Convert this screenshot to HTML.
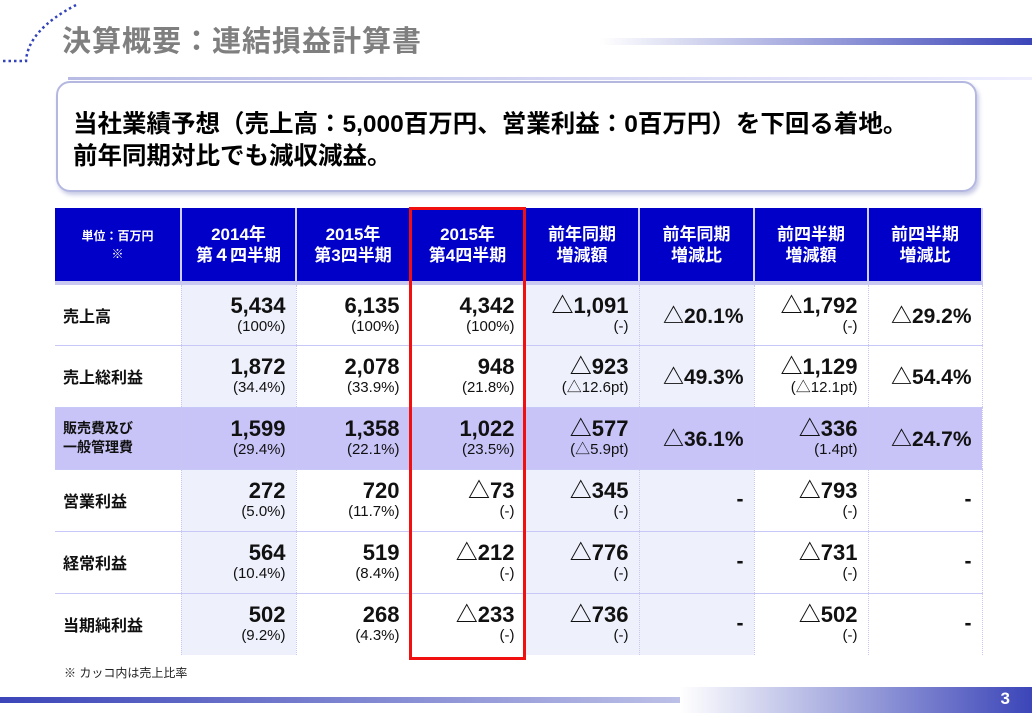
<!DOCTYPE html>
<html><head><meta charset="utf-8"><style>
*{margin:0;padding:0;box-sizing:border-box}
body{width:1032px;height:713px;background:#fff;position:relative;overflow:hidden;font-family:"Liberation Sans","Noto Sans CJK JP",sans-serif}
.abs{position:absolute}
#title{left:62px;top:18px;font-size:29px;font-weight:bold;color:#7f7f7f;letter-spacing:1px}
#callout{left:56px;top:81px;width:921px;height:111px;border:2px solid #b4b8e0;border-radius:14px;box-shadow:2px 3px 4px #c8cae6;padding:26px 0 0 15px;font-size:24.5px;font-weight:bold;line-height:32px;color:#000;white-space:nowrap}
table{position:absolute;left:55px;top:208px;border-collapse:collapse;table-layout:fixed}
td{border-right:1px dotted #c8c8f0;border-bottom:1px solid #c8c8f8;height:62px;text-align:right;padding-right:10px;font-size:13px;color:#111}
th{background:#0000c8;color:#fff;height:75px;font-size:17px;font-weight:bold;line-height:21px;border-right:2px solid #d0d0ff;border-bottom:4px solid #c8c8f0}
th.u{font-size:12px;line-height:18px}
td.lab{text-align:left;padding-left:8px;font-weight:bold;font-size:16px}
td .v{display:block;font-size:22px;font-weight:bold;line-height:24px}
td .s{display:block;font-size:15px;line-height:18px}
td.c{font-size:21px;font-weight:bold;vertical-align:middle}
.l{background:#eef0fc}
tr.p td{background:#c8c4f8}
#red{left:409px;top:207px;width:117px;height:453px;border:3px solid #f01010}
</style></head><body>
<svg class="abs" style="left:0;top:0" width="90" height="70"><path d="M3 61 L26 61 Q28 30 76 5" stroke="#3344bb" stroke-width="2.5" fill="none" stroke-dasharray="2.5 3"/></svg>
<div id="title" class="abs">決算概要：連結損益計算書</div>
<div class="abs" style="left:600px;top:38px;width:432px;height:7px;background:linear-gradient(90deg,#fff,#3b45b8)"></div>
<div class="abs" style="left:68px;top:77px;width:964px;height:3px;background:linear-gradient(90deg,#b8bce4,#eef)"></div>
<div id="callout" class="abs">当社業績予想（売上高：5,000百万円、営業利益：0百万円）を下回る着地。<br>前年同期対比でも減収減益。</div>
<table>
<colgroup><col style="width:126px"><col style="width:115px"><col style="width:114px"><col style="width:115px"><col style="width:114px"><col style="width:115px"><col style="width:114px"><col style="width:114px"></colgroup>
<tr><th class="u">単位：百万円<br>※</th><th>2014年<br>第４四半期</th><th>2015年<br>第3四半期</th><th>2015年<br>第4四半期</th><th>前年同期<br>増減額</th><th>前年同期<br>増減比</th><th>前四半期<br>増減額</th><th>前四半期<br>増減比</th></tr>
<tr><td class="lab">売上高</td><td class="l"><span class="v">5,434</span><span class="s">(100%)</span></td><td><span class="v">6,135</span><span class="s">(100%)</span></td><td><span class="v">4,342</span><span class="s">(100%)</span></td><td class="l"><span class="v">△1,091</span><span class="s">(-)</span></td><td class="l c">△20.1%</td><td><span class="v">△1,792</span><span class="s">(-)</span></td><td class="c">△29.2%</td></tr>
<tr><td class="lab">売上総利益</td><td class="l"><span class="v">1,872</span><span class="s">(34.4%)</span></td><td><span class="v">2,078</span><span class="s">(33.9%)</span></td><td><span class="v">948</span><span class="s">(21.8%)</span></td><td class="l"><span class="v">△923</span><span class="s">(△12.6pt)</span></td><td class="l c">△49.3%</td><td><span class="v">△1,129</span><span class="s">(△12.1pt)</span></td><td class="c">△54.4%</td></tr>
<tr class="p"><td class="lab" style="font-size:14px;line-height:19px">販売費及び<br>一般管理費</td><td><span class="v">1,599</span><span class="s">(29.4%)</span></td><td><span class="v">1,358</span><span class="s">(22.1%)</span></td><td><span class="v">1,022</span><span class="s">(23.5%)</span></td><td><span class="v">△577</span><span class="s">(△5.9pt)</span></td><td class="c">△36.1%</td><td><span class="v">△336</span><span class="s">(1.4pt)</span></td><td class="c">△24.7%</td></tr>
<tr><td class="lab">営業利益</td><td class="l"><span class="v">272</span><span class="s">(5.0%)</span></td><td><span class="v">720</span><span class="s">(11.7%)</span></td><td><span class="v">△73</span><span class="s">(-)</span></td><td class="l"><span class="v">△345</span><span class="s">(-)</span></td><td class="l c">-</td><td><span class="v">△793</span><span class="s">(-)</span></td><td class="c">-</td></tr>
<tr><td class="lab">経常利益</td><td class="l"><span class="v">564</span><span class="s">(10.4%)</span></td><td><span class="v">519</span><span class="s">(8.4%)</span></td><td><span class="v">△212</span><span class="s">(-)</span></td><td class="l"><span class="v">△776</span><span class="s">(-)</span></td><td class="l c">-</td><td><span class="v">△731</span><span class="s">(-)</span></td><td class="c">-</td></tr>
<tr><td class="lab" style="border-bottom:none">当期純利益</td><td class="l" style="border-bottom:none"><span class="v">502</span><span class="s">(9.2%)</span></td><td style="border-bottom:none"><span class="v">268</span><span class="s">(4.3%)</span></td><td style="border-bottom:none"><span class="v">△233</span><span class="s">(-)</span></td><td class="l" style="border-bottom:none"><span class="v">△736</span><span class="s">(-)</span></td><td class="l c" style="border-bottom:none">-</td><td style="border-bottom:none"><span class="v">△502</span><span class="s">(-)</span></td><td class="c" style="border-bottom:none">-</td></tr>
</table>
<div id="red" class="abs"></div>
<div class="abs" style="left:64px;top:664px;font-size:12px;color:#222">※ カッコ内は売上比率</div>
<div class="abs" style="left:0;top:697px;width:1032px;height:6px;background:linear-gradient(90deg,#3b45b8,#fff)"></div>
<div class="abs" style="left:680px;top:687px;width:352px;height:26px;background:linear-gradient(90deg,#fff,#3b45b8);color:#fff;font-weight:bold;font-size:17px;text-align:right;padding:2px 22px 0 0">3</div>
</body></html>
